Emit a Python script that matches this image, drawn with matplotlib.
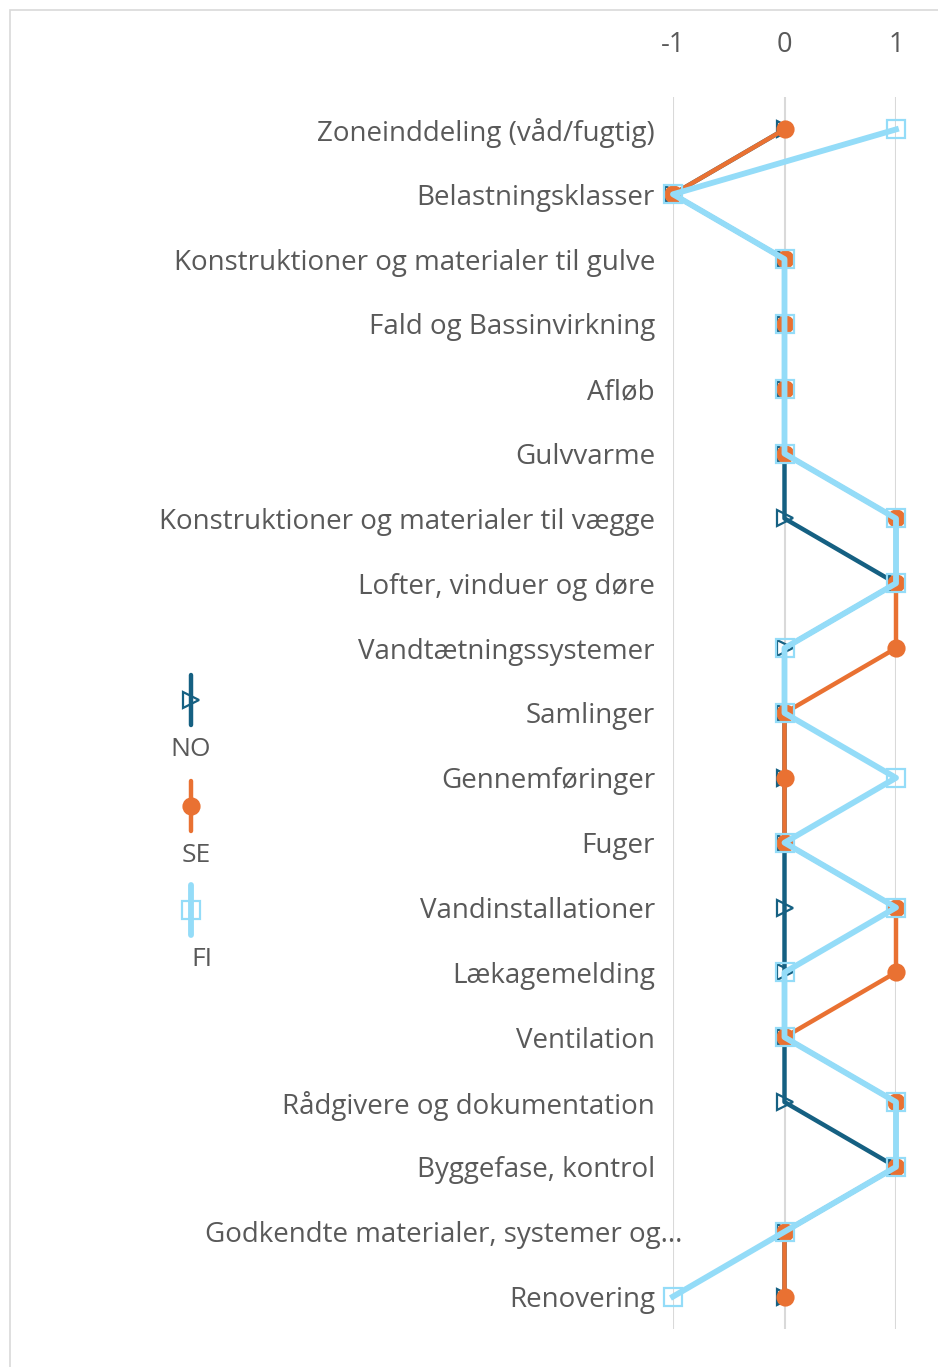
import matplotlib.pyplot as plt
import matplotlib.transforms as mtransforms
from matplotlib.lines import Line2D
from matplotlib.patches import Rectangle

categories = ['Zoneinddeling (våd/fugtig)', 'Belastningsklasser',
              'Konstruktioner og materialer til gulve', 'Fald og Bassinvirkning',
              'Afløb', 'Gulvvarme', 'Konstruktioner og materialer til vægge',
              'Lofter, vinduer og døre', 'Vandtætningssystemer', 'Samlinger',
              'Gennemføringer', 'Fuger', 'Vandinstallationer', 'Lækagemelding',
              'Ventilation', 'Rådgivere og dokumentation', 'Byggefase, kontrol',
              'Godkendte materialer, systemer og...', 'Renovering']
no_vals = [0, -1, 0, 0, 0, 0, 0, 1, 0, 0, 0, 0, 0, 0, 0, 0, 1, 0, 0]
se_vals = [0, -1, 0, 0, 0, 0, 1, 1, 1, 0, 0, 0, 1, 1, 0, 1, 1, 0, 0]
fi_vals = [1, -1, 0, 0, 0, 0, 1, 1, 0, 0, 1, 0, 1, 0, 0, 1, 1, 0, -1]
x_ticks = [-1, 0, 1]

plt.rcParams['font.family'] = ['Open Sans', 'DejaVu Sans']
txt = '#595959'

fig = plt.figure(figsize=(9.38, 13.67), dpi=100)
# ramme rundt om diagrammet
fig.patches.append(Rectangle((10 / 938, -0.1), 1.2, 1 - 10 / 1367 + 0.1,
                             transform=fig.transFigure, fill=False,
                             edgecolor='#D9D9D9', lw=1.2))

ax = fig.add_axes([673 / 938, 1 - 1329 / 1367, (896 - 673) / 938, (1329 - 97) / 1367])
ypos = list(range(len(categories)))

# navn, værdier, farve, markør, fyld, linjebredde, markørstørrelse
series = [
    ('NO', no_vals, '#156082', '>', 'none', 3.2, 11),
    ('SE', se_vals, '#E97132', 'o', '#E97132', 3.2, 11.5),
    ('FI', fi_vals, '#94DCF8', 's', 'none', 4.2, 13),
]
for name, vals, col, mk, mfc, lw, ms in series:
    ax.plot(vals, ypos, color=col, lw=lw, marker=mk, ms=ms,
            mfc=mfc, mec=col, mew=1.6, clip_on=False, solid_joinstyle='round')

ax.set_xlim(-1, 1)
ax.set_ylim(len(categories) - 0.5, -0.5)
ax.set_xticks(x_ticks)
ax.set_xticklabels([str(t) for t in x_ticks])
ax.xaxis.tick_top()
ax.tick_params(axis='x', length=0, pad=27, labelsize=19.5, labelcolor=txt)
ax.set_yticks(ypos)
ax.set_yticklabels(categories)
ax.tick_params(axis='y', length=0, pad=13, labelsize=20, labelcolor=txt)
# den afkortede etiket står lidt længere mod højre, som i Excel
lab = ax.get_yticklabels()[17]
lab.set_transform(lab.get_transform() + mtransforms.ScaledTranslation(27 / 100, 0, fig.dpi_scale_trans))
ax.grid(axis='x', color='#D9D9D9', lw=1.5)
ax.set_axisbelow(True)
for s in ax.spines.values():
    s.set_visible(False)
ax.set_facecolor('none')

# signaturforklaring: lodrette linjer med navnet under
leg_y = [700, 806, 910]
for (name, vals, col, mk, mfc, lw, ms), yc, dx in zip(series, leg_y, [0, 5, 11]):
    xf = 191 / 938
    fig.add_artist(Line2D([xf, xf], [1 - (yc - 25) / 1367, 1 - (yc + 25) / 1367],
                          transform=fig.transFigure, color=col, lw=lw,
                          solid_capstyle='round'))
    fig.add_artist(Line2D([xf], [1 - yc / 1367], transform=fig.transFigure,
                          marker=mk, ms=ms, mfc=mfc,
                          mec=col, mew=1.6, color=col, lw=0))
    fig.text((191 + dx) / 938, 1 - (yc + 49) / 1367, name, ha='center', va='center',
             fontsize=19, color=txt)

fig.savefig('out.png', dpi=100)
